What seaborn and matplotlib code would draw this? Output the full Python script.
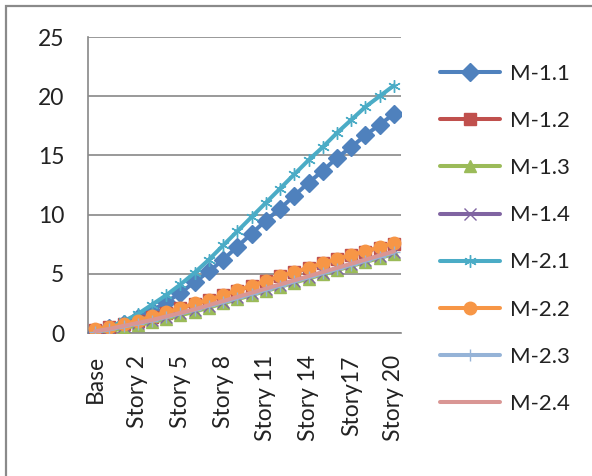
import numpy as np
import pandas as pd
import matplotlib
matplotlib.use("Agg")
import matplotlib.pyplot as plt
from matplotlib.patches import Rectangle
import seaborn as sns

# ---------------- data ----------------
categories = ["Base", "Plinth", "Story 1", "Story 2", "Story 3", "Story 4", "Story 5",
              "Story 6", "Story 7", "Story 8", "Story 9", "Story 10", "Story 11",
              "Story 12", "Story 13", "Story 14", "Story 15", "Story 16", "Story17",
              "Story 18", "Story 19", "Story 20"]
series_names = ["M-1.1", "M-1.2", "M-1.3", "M-1.4", "M-2.1", "M-2.2", "M-2.3", "M-2.4"]

m11 = [0.1, 0.4, 0.8, 1.3, 1.9, 2.6, 3.4, 4.3, 5.2, 6.2, 7.3, 8.4, 9.5, 10.5, 11.6,
       12.7, 13.7, 14.8, 15.7, 16.7, 17.6, 18.5]
m12 = [0.28, 0.48, 0.73, 1.03, 1.37, 1.72, 2.08, 2.47, 2.8, 3.18, 3.58, 3.98, 4.38,
       4.78, 5.13, 5.48, 5.88, 6.22, 6.57, 6.88, 7.22, 7.55]
m13 = [0.0, 0.15, 0.4, 0.65, 0.9, 1.2, 1.5, 1.8, 2.15, 2.5, 2.85, 3.2, 3.55,
       3.9, 4.25, 4.6, 4.95, 5.3, 5.65, 6.0, 6.33, 6.68]
m14 = [0.12, 0.32, 0.57, 0.82, 1.08, 1.37, 1.67, 1.97, 2.32, 2.66, 3.0, 3.35, 3.7,
       4.05, 4.4, 4.75, 5.1, 5.45, 5.8, 6.15, 6.5, 6.85]
m21 = [0.1, 0.5, 1.0, 1.6, 2.4, 3.2, 4.1, 5.1, 6.2, 7.4, 8.6, 9.8, 11.0, 12.2, 13.4,
       14.6, 15.7, 16.9, 18.0, 19.1, 20.0, 20.9]
m22 = [0.3, 0.5, 0.75, 1.05, 1.4, 1.75, 2.1, 2.5, 2.8, 3.2, 3.6, 4.0, 4.4, 4.8, 5.15,
       5.5, 5.9, 6.25, 6.6, 6.9, 7.25, 7.6]
m23 = [0.1, 0.3, 0.55, 0.8, 1.05, 1.35, 1.65, 1.95, 2.3, 2.6, 2.95, 3.3, 3.65, 4.0,
       4.35, 4.7, 5.05, 5.4, 5.75, 6.1, 6.45, 6.8]
m24 = [0.15, 0.35, 0.6, 0.85, 1.1, 1.4, 1.7, 2.0, 2.35, 2.7, 3.05, 3.4, 3.75, 4.1,
       4.45, 4.8, 5.15, 5.5, 5.85, 6.2, 6.55, 6.9]

y_ticks = [0, 5, 10, 15, 20, 25]

# ---------------- styling ----------------
sns.set_style("white")
plt.rcParams["font.family"] = ["Lato", "DejaVu Sans"]

colors = ["#4F81BD", "#C0504D", "#9BBB59", "#8064A2", "#4BACC6", "#F79646",
          "#95B3D7", "#D99694"]
markers = ["D", "s", "^", "x", (6, 2, 0), "o", "+", None]
msizes = [10.5, 10, 10, 10, 12.5, 10.5, 12, 0]

df = pd.DataFrame({"pos": np.arange(len(categories)), "M-1.1": m11, "M-1.2": m12,
                   "M-1.3": m13, "M-1.4": m14, "M-2.1": m21, "M-2.2": m22,
                   "M-2.3": m23, "M-2.4": m24})

fig = plt.figure(figsize=(5.92, 4.76), dpi=100)
ax = fig.add_axes([88 / 592, 1 - 333 / 476, (401 - 88) / 592, (333 - 37) / 476])

grid_c = "#888888"
for i, name in enumerate(series_names):
    kw = dict(color=colors[i], linewidth=2.9, solid_capstyle="round", zorder=3 + i)
    if markers[i] is not None:
        kw.update(marker=markers[i], markersize=msizes[i], markeredgecolor=colors[i],
                  markerfacecolor=colors[i], markeredgewidth=1.0)
    sns.lineplot(data=df, x="pos", y=name, ax=ax, label=name, errorbar=None, **kw)

ax.set_xlim(-0.5, len(categories) - 0.5)
ax.set_ylim(0, 25)
ax.set_yticks(y_ticks)
ax.set_yticklabels([str(v) for v in y_ticks])
ax.yaxis.grid(True, color=grid_c, linewidth=1.2)
ax.xaxis.grid(False)
ax.set_xlabel("")
ax.set_ylabel("")

# category boundary tick marks, labels on every third category
ax.set_xticks(np.arange(-0.5, len(categories), 1.0))
ax.set_xticklabels([])
lab_pos = np.arange(0, len(categories), 3)
ax.set_xticks(lab_pos, minor=True)
ax.set_xticklabels([categories[p] for p in lab_pos], minor=True, rotation=90,
                   va="top", ha="center")
ax.tick_params(axis="x", which="major", length=7, width=1.2, color=grid_c, direction="out")
ax.tick_params(axis="x", which="minor", length=0, pad=16, labelsize=16.5, labelcolor="#222222")
ax.tick_params(axis="y", length=7, width=1.2, color=grid_c, direction="out", pad=10,
               labelsize=16.5, labelcolor="#222222")

for side in ["top", "right"]:
    ax.spines[side].set_visible(False)
for side in ["left", "bottom"]:
    ax.spines[side].set_color(grid_c)
    ax.spines[side].set_linewidth(1.2)

handles, labels = ax.get_legend_handles_labels()
for h in handles:
    h.set_markersize(9)
leg = ax.legend(handles, labels, loc="upper left", bbox_to_anchor=(440 / 592, 1 - 64 / 476),
                bbox_transform=fig.transFigure, frameon=False, fontsize=16,
                handlelength=2.7, handletextpad=0.45, labelspacing=1.22, borderpad=0,
                borderaxespad=0, labelcolor="#222222")

# outer chart border (left and top visible)
fig.patches.append(Rectangle((6 / 592, -0.1), 1.2, 1.1 - 6 / 476, transform=fig.transFigure,
                             fill=False, edgecolor="#8a8a8a", linewidth=1.6))

fig.savefig("out.png", dpi=100)
